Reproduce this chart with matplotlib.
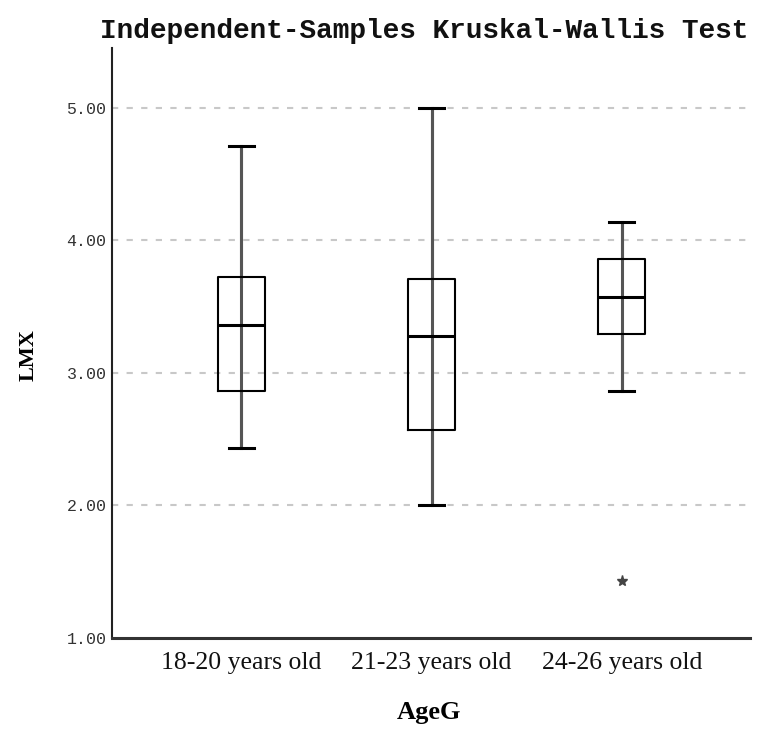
import matplotlib
matplotlib.use("Agg")
import matplotlib.pyplot as plt

categories = ["18-20 years old", "21-23 years old", "24-26 years old"]
whislo = [2.43, 2.00, 2.86]
q1 = [2.86, 2.57, 3.29]
med = [3.36, 3.28, 3.57]
q3 = [3.72, 3.71, 3.86]
whishi = [4.71, 5.00, 4.14]
outliers = [[], [], [1.43]]
yticks = [1.0, 2.0, 3.0, 4.0, 5.0]
ytick_labels = ["1.00", "2.00", "3.00", "4.00", "5.00"]

fig = plt.figure(figsize=(7.61, 7.31), dpi=100)
ax = fig.add_axes([0.1472, 0.1272, 0.8383, 0.8071])

positions = [1, 2, 3]
stats = []
for i in range(3):
    stats.append(dict(med=med[i], q1=q1[i], q3=q3[i], whislo=whislo[i],
                      whishi=whishi[i], fliers=outliers[i], label=categories[i]))

# whisker line running through the box
ax.vlines(positions, whislo, whishi, colors="#555555", linewidth=2.2, zorder=2)

ax.bxp(stats, positions=positions, widths=0.245, capwidths=0.13,
       showfliers=True, patch_artist=False,
       boxprops=dict(color="black", linewidth=1.5, zorder=3),
       medianprops=dict(color="black", linewidth=2.2, zorder=4),
       whiskerprops=dict(color="#555555", linewidth=2.2, zorder=2),
       capprops=dict(color="black", linewidth=2.2, zorder=3),
       flierprops=dict(marker="*", markersize=8, markerfacecolor="#444444",
                       markeredgecolor="#444444", linestyle="none"))

ax.set_xlim(0.32, 3.674)
ax.set_ylim(1.0, 5.45)
ax.set_yticks(yticks)
ax.set_yticklabels(ytick_labels, fontfamily="Liberation Mono", fontsize=12, color="#333333")
ax.set_xticks(positions)
ax.set_xticklabels(categories, fontfamily="Liberation Serif", fontsize=18.5, color="#111111")
ax.tick_params(axis="both", length=0, pad=4)
ax.tick_params(axis="x", pad=10)

for y in yticks[1:]:
    ax.axhline(y, color="#c8c8c8", linestyle=(0, (3, 4)), linewidth=1.5, zorder=1)

for side in ["top", "right"]:
    ax.spines[side].set_visible(False)
ax.spines["left"].set_linewidth(1.5)
ax.spines["left"].set_color("#222222")
ax.spines["bottom"].set_linewidth(2.2)
ax.spines["bottom"].set_color("#333333")

ax.set_ylabel("LMX", fontfamily="Liberation Serif", fontweight="bold", fontsize=16)
ax.yaxis.set_label_coords(-0.115, 0.48)
ax.set_xlabel("AgeG", fontfamily="Liberation Serif", fontweight="bold", fontsize=19)
ax.xaxis.set_label_coords(0.497, -0.107)

fig.text(0.557, 0.958, "Independent-Samples Kruskal-Wallis Test", fontfamily="Liberation Mono",
         fontweight="bold", fontsize=20, ha="center", va="center", color="#111111")

fig.savefig("out.png", dpi=100)
